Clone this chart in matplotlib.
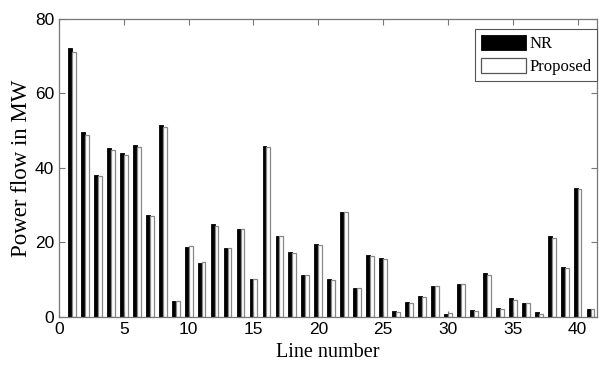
import matplotlib
matplotlib.use("Agg")
import matplotlib.pyplot as plt
import numpy as np

lines = list(range(1, 42))
nr = [72.1, 49.6, 38.1, 45.2, 43.9, 46.2, 27.3, 51.4, 4.3, 18.7,
      14.4, 24.8, 18.5, 23.7, 10.0, 46.0, 21.7, 17.3, 11.2, 19.5,
      10.0, 28.2, 7.7, 16.6, 15.8, 1.5, 3.9, 5.6, 8.2, 0.7,
      8.9, 1.8, 11.8, 2.3, 5.1, 3.7, 1.3, 21.7, 13.4, 34.7, 2.2]
proposed = [71.1, 48.9, 37.7, 44.7, 43.4, 45.6, 27.0, 51.1, 4.1, 18.9,
            14.6, 24.5, 18.4, 23.5, 10.0, 45.6, 21.6, 17.2, 11.1, 19.3,
            9.8, 28.1, 7.6, 16.3, 15.6, 1.3, 3.8, 5.3, 8.2, 0.9,
            8.9, 1.5, 11.2, 2.2, 4.5, 3.7, 0.8, 21.2, 13.1, 34.3, 2.2]
xticks = [0, 5, 10, 15, 20, 25, 30, 35, 40]
yticks = [0, 20, 40, 60, 80]

fig = plt.figure(figsize=(5.99, 3.65), dpi=100)
ax = fig.add_axes([0.0985, 0.1323, 0.8982, 0.8157])

x = np.array(lines)
w = 0.3
ax.bar(x - w / 2, nr, width=w, color='black', edgecolor='black', linewidth=0.6, label='NR')
ax.bar(x + w / 2, proposed, width=w, color='white', edgecolor='#888888', linewidth=0.9, label='Proposed')

ax.set_xlim(0, 41.5)
ax.set_ylim(0, 80)
ax.set_xticks(xticks)
ax.set_yticks(yticks)
ax.tick_params(direction='in', top=True, right=True, length=4, width=0.8,
               colors='#777777', labelcolor='black', labelsize=12.5)
ax.tick_params(axis='x', pad=4)
for lab in ax.get_xticklabels() + ax.get_yticklabels():
    lab.set_family('Liberation Sans')
for s in ax.spines.values():
    s.set_color('#777777')
    s.set_linewidth(0.9)

serif = 'Liberation Serif'
ax.set_xlabel('Line number', family=serif, fontsize=14.5, labelpad=4)
ax.set_ylabel('Power flow in MW', family=serif, fontsize=16.5, labelpad=2)

leg = ax.legend(loc='upper right', bbox_to_anchor=(1.0, 1 - 10 / 298.0),
                prop={'family': serif, 'size': 12},
                fancybox=False, edgecolor='#555555', framealpha=1,
                borderaxespad=0.0, handlelength=2.7, handleheight=1.0,
                handletextpad=0.2, borderpad=0.35, labelspacing=0.35)
leg.get_frame().set_linewidth(0.8)
leg.legend_handles[1].set_edgecolor('#555555')

fig.savefig('out.png', dpi=100)
